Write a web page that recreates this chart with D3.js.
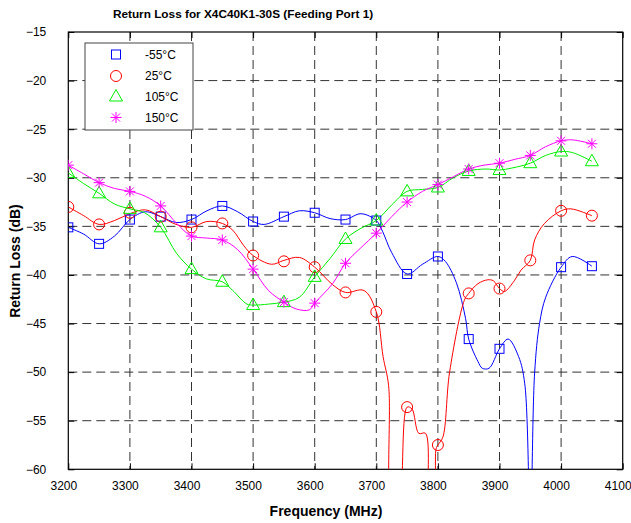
<!DOCTYPE html>
<html><head><meta charset="utf-8">
<script src="https://cdn.jsdelivr.net/npm/d3@7"></script>
<style>body{margin:0;background:#fff}svg{display:block}text{font-family:"Liberation Sans",Arial,sans-serif}</style>
</head><body><svg id="c" width="631" height="523"></svg>
<script>
// ---- data ----
const xTicks = [3200,3300,3400,3500,3600,3700,3800,3900,4000,4100];
const yTicks = [-15,-20,-25,-30,-35,-40,-45,-50,-55,-60];
const seriesNames = ["-55°C","25°C","105°C","150°C"];
const markerFreqs = [3200,3250,3300,3350,3400,3450,3500,3550,3600,3650,3700,3750,3800,3850,3900,3950,4000,4050];
const m55 = [-35.1,-36.8,-34.3,-34.0,-34.3,-32.9,-34.5,-34.0,-33.6,-34.3,-34.4,-39.9,-38.1,-46.6,-47.6,-66,-39.2,-39.1];
const m25 = [-33.0,-34.8,-33.6,-34.0,-35.1,-34.7,-38.0,-38.6,-39.2,-41.8,-43.8,-53.6,-57.5,-41.9,-41.4,-38.5,-33.4,-33.9];
const m105 = [-29.5,-31.6,-33.2,-35.1,-39.4,-40.7,-43.1,-42.8,-40.2,-36.3,-34.4,-31.4,-31.0,-29.3,-29.2,-28.5,-27.3,-28.3];
const m150 = [-28.7,-30.5,-31.4,-32.9,-36.0,-36.4,-39.4,-42.8,-42.9,-38.8,-35.7,-32.5,-30.7,-29.1,-28.5,-27.7,-26.2,-26.5];

const l55f = [3200,3225,3250,3275,3300,3325,3350,3375,3400,3425,3450,3475,3500,3518,3550,3575,3600,3625,3650,3675,3700,3710,3725,3750,3775,3800,3812,3830,3845,3850,3865,3872,3883,3900,3914,3931,3941,3950,3957,3965,3975,4000,4018,4050];
const l55v = [-35.1,-35.8,-36.8,-36.0,-34.3,-33.5,-34.0,-34.6,-34.3,-33.4,-32.9,-33.5,-34.5,-34.8,-34.0,-33.4,-33.6,-34.2,-34.3,-33.7,-34.4,-35.5,-37.7,-39.9,-38.9,-38.1,-38.6,-40.8,-44.5,-46.6,-48.9,-49.6,-49.6,-47.6,-46.6,-48.4,-51.2,-66,-50.1,-45.0,-42.3,-39.2,-38.1,-39.1];
const l25f = [3200,3225,3250,3275,3300,3325,3350,3375,3400,3425,3450,3467,3485,3500,3530,3550,3575,3600,3629,3650,3680,3700,3711,3720,3726,3735,3750,3758,3769,3780,3787,3793,3797,3800,3808,3819,3843,3850,3865,3881,3890,3900,3908,3924,3935,3950,3957,3973,4000,4016,4050];
const l25v = [-33.0,-33.9,-34.8,-34.4,-33.7,-33.3,-34.0,-34.8,-35.1,-34.5,-34.7,-35.4,-37.0,-38.0,-38.9,-38.5,-38.2,-39.2,-41.0,-41.8,-41.6,-43.8,-48.4,-51.4,-64,-64,-53.6,-53.8,-56.3,-56.3,-64,-64,-57.9,-57.5,-56.7,-50.0,-42.6,-41.9,-40.9,-40.5,-40.6,-41.4,-41.7,-40.6,-39.5,-38.5,-36.4,-34.7,-33.4,-33.2,-33.9];
const l105f = [3200,3225,3250,3275,3300,3324,3350,3376,3400,3424,3450,3467,3490,3500,3525,3550,3575,3600,3625,3650,3675,3700,3725,3750,3775,3800,3825,3850,3878,3900,3920,3950,3975,4000,4018,4050];
const l105v = [-29.5,-30.6,-31.6,-32.7,-33.2,-33.6,-35.1,-37.8,-39.4,-40.4,-40.7,-41.6,-43.0,-43.1,-43.0,-42.8,-42.3,-40.2,-38.3,-36.3,-35.2,-34.4,-32.8,-31.4,-31.2,-31.0,-30.0,-29.3,-29.1,-29.2,-29.0,-28.5,-27.7,-27.3,-27.4,-28.3];
const l150f = [3200,3225,3250,3275,3300,3325,3350,3376,3400,3424,3450,3475,3500,3525,3550,3570,3591,3600,3629,3650,3675,3700,3725,3750,3775,3800,3825,3850,3875,3900,3925,3950,3975,4000,4018,4050];
const l150v = [-28.7,-29.6,-30.5,-31.1,-31.4,-31.9,-32.9,-34.7,-36.0,-36.2,-36.4,-37.4,-39.4,-41.6,-42.8,-43.5,-43.6,-42.9,-40.9,-38.8,-37.2,-35.7,-34.0,-32.5,-31.4,-30.7,-29.9,-29.1,-28.7,-28.5,-28.1,-27.7,-26.8,-26.2,-26.1,-26.5];
const colors = ["#0000ff","#ff0000","#00ee00","#ff00ff"];
const shapes = ["square","circle","triangle","star"];

// ---- layout ----
const svg = d3.select("#c");
const M = {l:68.3, r:8.3, t:32, b:53.7};
const W = 631, H = 523;
const x = d3.scaleLinear().domain([3200,4100]).range([M.l, W-M.r]);
const y = d3.scaleLinear().domain([-60,-15]).range([H-M.b, M.t]);

svg.append("defs").append("clipPath").attr("id","clip")
  .append("rect").attr("x",M.l).attr("y",M.t).attr("width",W-M.r-M.l).attr("height",H-M.b-M.t);

// grid
const g = svg.append("g");
g.selectAll("line.vg").data(xTicks.slice(1,-1)).join("line")
  .attr("x1",d=>x(d)).attr("x2",d=>x(d)).attr("y1",y(-15)).attr("y2",y(-60))
  .attr("stroke","#333").attr("stroke-width",1).attr("stroke-dasharray","9,5");
g.selectAll("line.hg").data(yTicks.slice(1,-1)).join("line")
  .attr("x1",x(3200)).attr("x2",x(4100)).attr("y1",d=>y(d)).attr("y2",d=>y(d))
  .attr("stroke","#333").attr("stroke-width",1).attr("stroke-dasharray","9,5");

// axes
const xa = svg.append("g").attr("transform",`translate(0,${y(-60)})`)
  .call(d3.axisBottom(x).tickValues(xTicks).tickFormat(d3.format("d")).tickSizeInner(-6).tickSizeOuter(0).tickPadding(10));
const ya = svg.append("g").attr("transform",`translate(${x(3200)},0)`)
  .call(d3.axisLeft(y).tickValues(yTicks).tickFormat(d3.format("d")).tickSizeInner(-6).tickSizeOuter(0).tickPadding(10));
const xt = svg.append("g").attr("transform",`translate(0,${y(-15)})`)
  .call(d3.axisTop(x).tickValues(xTicks).tickFormat("").tickSizeInner(-6).tickSizeOuter(0));
const yr = svg.append("g").attr("transform",`translate(${x(4100)},0)`)
  .call(d3.axisRight(y).tickValues(yTicks).tickFormat("").tickSizeInner(-6).tickSizeOuter(0));
[xa,ya,xt,yr].forEach(a=>{a.select(".domain").remove();a.selectAll("line").attr("stroke","#000");
  a.selectAll("text").attr("font-size",12).attr("fill","#000").style("font-family","'Liberation Sans',Arial,sans-serif");});
ya.selectAll("text").attr("dx",-12);
xa.selectAll("text").attr("dy","0.9em").attr("dx",-5);
svg.append("rect").attr("x",x(3200)).attr("y",y(-15)).attr("width",x(4100)-x(3200)).attr("height",y(-60)-y(-15))
  .attr("fill","none").attr("stroke","#000").attr("stroke-width",1.2);

// lines
const lineData = [[l55f,l55v],[l25f,l25v],[l105f,l105v],[l150f,l150v]];
const markerData = [m55,m25,m105,m150];
const line = d3.line().x(d=>x(d[0])).y(d=>y(d[1])).curve(d3.curveCatmullRom.alpha(0.5));
const plot = svg.append("g").attr("clip-path","url(#clip)");

function drawMarker(sel, shape, color){
  if(shape==="square") sel.append("rect").attr("x",-4.5).attr("y",-4.5).attr("width",9).attr("height",9);
  else if(shape==="circle") sel.append("circle").attr("r",5.5);
  else if(shape==="triangle") sel.append("path").attr("d","M0,-7L6.5,4.5L-6.5,4.5Z");
  else sel.append("path").attr("d","M-5.5,0H5.5M0,-5.5V5.5M-4,-4L4,4M-4,4L4,-4");
  sel.selectAll("*").attr("fill","none").attr("stroke",color).attr("stroke-width",1);
}

lineData.forEach((ld,i)=>{
  const pts = ld[0].map((f,j)=>[f, ld[1][j]]);
  plot.append("path").datum(pts).attr("d",line).attr("fill","none").attr("stroke",colors[i]).attr("stroke-width",1);
});
markerData.forEach((mv,i)=>{
  markerFreqs.forEach((f,j)=>{
    const s = plot.append("g").attr("transform",`translate(${x(f)},${y(mv[j])})`);
    drawMarker(s, shapes[i], colors[i]);
  });
});

// legend
const lg = svg.append("g");
lg.append("rect").attr("x",85).attr("y",43).attr("width",108).attr("height",87).attr("fill","#fff").attr("stroke","#444").attr("stroke-width",1);
const rowsY = [54.5,76,96.5,117.5];
seriesNames.forEach((n,i)=>{
  const s = lg.append("g").attr("transform",`translate(116,${rowsY[i]})`);
  drawMarker(s, shapes[i], colors[i]);
  lg.append("text").attr("x",145).attr("y",rowsY[i]).attr("dy","0.35em").attr("font-size",12).text(n);
});

// titles
svg.append("text").attr("x",243).attr("y",18).attr("text-anchor","middle").attr("font-size",11.8).attr("font-weight","bold")
  .text("Return Loss for X4C40K1-30S (Feeding Port 1)");
svg.append("text").attr("x",326).attr("y",516).attr("text-anchor","middle").attr("font-size",14).attr("font-weight","bold")
  .text("Frequency (MHz)");
svg.append("text").attr("transform","translate(20,261) rotate(-90)").attr("text-anchor","middle").attr("font-size",14).attr("font-weight","bold")
  .text("Return Loss (dB)");
</script></body></html>
